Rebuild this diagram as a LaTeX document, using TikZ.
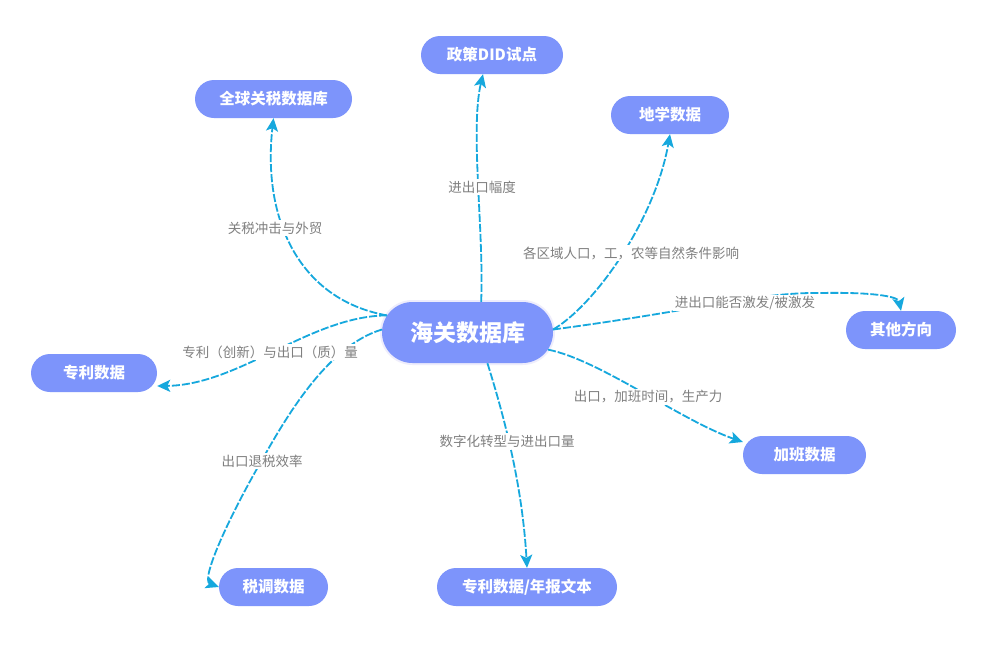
\documentclass[tikz,border=0pt]{standalone}
\usepackage{fontspec}
\setmainfont{Noto Sans CJK SC}
\usetikzlibrary{shapes.misc,arrows.meta}
\definecolor{nodefill}{HTML}{7D94FB}
\definecolor{hubglow}{HTML}{EEEDFC}
\definecolor{linkc}{HTML}{16A8DD}
\definecolor{labc}{HTML}{7F7F7F}
\tikzset{
  topic/.style={rounded rectangle, fill=nodefill, text=white,
    font=\fontsize{15.5}{17}\selectfont\bfseries, minimum height=38pt, inner sep=0pt},
  hub/.style={rounded rectangle, fill=nodefill, text=white,
    font=\fontsize{23}{25}\selectfont\bfseries, minimum height=61pt, minimum width=171pt,
    inner sep=0pt, preaction={draw=hubglow, line width=4pt}},
  link/.style={draw=linkc, line width=1.8pt, dash pattern=on 8pt off 2pt,
    -{Stealth[length=13pt,width=12pt,inset=3pt]}},
  lab/.style={fill=white, text=labc, font=\fontsize{13.5}{15}\selectfont, inner sep=1.5pt}
}
\begin{document}
\begin{tikzpicture}[x=1pt,y=-1pt]
\useasboundingbox[fill=white] (0,0) rectangle (987,667);
% nodes
\node[hub] (c) at (467.5,332.5) {海关数据库};
\node[topic, minimum width=142pt] (d) at (492,55) {政策DID试点};
\node[topic, minimum width=157pt] (g) at (273.5,99) {全球关税数据库};
\node[topic, minimum width=118pt] (e) at (670,115) {地学数据};
\node[topic, minimum width=110pt] (o) at (901,330) {其他方向};
\node[topic, minimum width=126pt] (p) at (94,373) {专利数据};
\node[topic, minimum width=123pt] (k) at (804.5,455) {加班数据};
\node[topic, minimum width=109pt] (s) at (273.5,587) {税调数据};
\node[topic, minimum width=180pt] (y) at (527,587) {专利数据/年报文本};
% helper coordinates
\coordinate (o1) at (820,293);
\coordinate (s1) at (262,460);
% connectors
\draw[link] (c.66) .. controls (484,230) and (470,130) .. ([xshift=-9pt]d.south);
\draw[link] (c.168) .. controls (300,300) and (262,220) .. (g.south);
\draw[link] (c.2) .. controls (595,305) and (655,220) .. (e.south);
\draw[link] (c.2) .. controls (700,310) and (760,292) .. (o1) .. controls (870,292) and (898,296) .. (o.north);
\draw[link] (c.168) .. controls (310,316) and (240,385) .. ([yshift=-13pt]p.east);
\draw[link] (c.-12) .. controls (600,360) and (680,420) .. ([yshift=13pt]k.west);
\draw[link] (c.-57) .. controls (502,410) and (522,480) .. (y.north);
\draw[link] (c.178) .. controls (330,345) and (290,410) .. (s1) .. controls (230,515) and (200,580) .. (s.west);
% labels
\node[lab] (l1) at (482,187) {进出口幅度};
\node[lab] (l2) at (275,228) {关税冲击与外贸};
\node[lab] (l3) at (631,253) {各区域人口，工，农等自然条件影响};
\node[lab] (l4) at (745,303) {进出口能否激发/被激发};
\node[lab] (l5) at (270,352) {专利（创新）与出口（质）量};
\node[lab] (l6) at (648,397) {出口，加班时间，生产力};
\node[lab] (l7) at (507,441) {数字化转型与进出口量};
\node[lab] (l8) at (262,461) {出口退税效率};
\end{tikzpicture}
\end{document}
